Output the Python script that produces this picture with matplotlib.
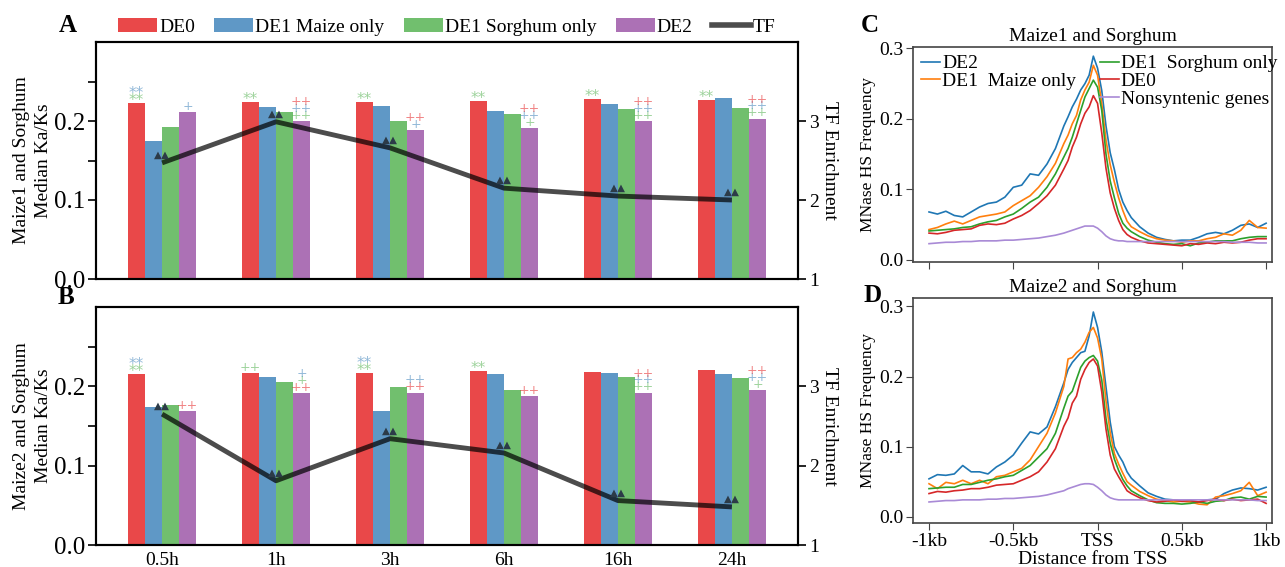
import numpy as np
import matplotlib
matplotlib.use("Agg")
import matplotlib.pyplot as plt
from matplotlib.lines import Line2D
from matplotlib.patches import Patch

plt.rcParams["font.family"] = ["Liberation Serif", "DejaVu Serif"]

# ── bar panels (A, B) ────────────────────────────────────────────────────────
TIMES = ["0.5h", "1h", "3h", "6h", "16h", "24h"]
GROUPS = ["DE0", "DE1 Maize only", "DE1 Sorghum only", "DE2"]

KAKS_A = {
    "DE0":              [0.223, 0.224, 0.224, 0.225, 0.228, 0.227],
    "DE1 Maize only":   [0.175, 0.218, 0.219, 0.213, 0.221, 0.229],
    "DE1 Sorghum only": [0.192, 0.211, 0.200, 0.209, 0.215, 0.216],
    "DE2":              [0.211, 0.200, 0.189, 0.191, 0.200, 0.203],
}
TF_A = [2.47, 2.99, 2.66, 2.15, 2.05, 2.00]

KAKS_B = {
    "DE0":              [0.216, 0.217, 0.217, 0.219, 0.218, 0.220],
    "DE1 Maize only":   [0.174, 0.212, 0.169, 0.215, 0.217, 0.215],
    "DE1 Sorghum only": [0.176, 0.206, 0.199, 0.196, 0.212, 0.211],
    "DE2":              [0.169, 0.191, 0.192, 0.188, 0.192, 0.195],
}
TF_B = [2.65, 1.81, 2.34, 2.16, 1.56, 1.48]

# significance marks: (time index, bar index, [(text, colour key) bottom→top])
SIG_A = [
    (0, 0, [("**", "g"), ("**", "b")]), (0, 3, [("+", "b")]),
    (1, 0, [("**", "g")]), (1, 3, [("++", "g"), ("++", "b"), ("++", "r")]),
    (2, 0, [("**", "g")]), (2, 3, [("+", "b"), ("++", "r")]),
    (3, 0, [("**", "g")]), (3, 3, [("+", "g"), ("++", "b"), ("++", "r")]),
    (4, 0, [("**", "g")]), (4, 3, [("++", "g"), ("++", "b"), ("++", "r")]),
    (5, 0, [("**", "g")]), (5, 3, [("++", "g"), ("++", "b"), ("++", "r")]),
]
SIG_B = [
    (0, 0, [("**", "g"), ("**", "b")]), (0, 3, [("++", "r")]),
    (1, 0, [("++", "g")]), (1, 3, [("++", "r"), ("+", "g"), ("+", "b")]),
    (2, 0, [("**", "g"), ("**", "b")]), (2, 3, [("++", "r"), ("++", "b")]),
    (3, 0, [("**", "g")]), (3, 3, [("++", "r")]),
    (4, 3, [("++", "g"), ("++", "b"), ("++", "r")]),
    (5, 3, [("+", "g"), ("++", "b"), ("++", "r")]),
]

BAR_COLORS = ["#e41a1c", "#377eb8", "#4daf4a", "#984ea3"]
SIG_COLORS = {"r": "#e41a1c", "b": "#377eb8", "g": "#4daf4a"}

# ── MNase HS profiles (C, D) ─────────────────────────────────────────────────
X_BP = [-1000, -950, -900, -850, -800, -750, -700, -650, -600, -550, -500,
        -450, -400, -350, -300, -250, -200, -175, -150, -125, -100, -75, -50,
        -25, 0, 25, 50, 75, 100, 125, 150, 175, 200, 250, 300, 350, 400, 450,
        500, 550, 600, 650, 700, 750, 800, 850, 900, 950, 1000]

C_DE2 = [0.068, 0.065, 0.069, 0.063, 0.061, 0.068, 0.075, 0.080, 0.082, 0.089,
         0.103, 0.106, 0.122, 0.120, 0.136, 0.158, 0.190, 0.203, 0.217, 0.228,
         0.241, 0.250, 0.262, 0.289, 0.272, 0.240, 0.190, 0.152, 0.128, 0.100,
         0.082, 0.070, 0.060, 0.047, 0.038, 0.032, 0.029, 0.027, 0.028, 0.028,
         0.032, 0.037, 0.039, 0.037, 0.042, 0.049, 0.051, 0.046, 0.052]
C_DE1M = [0.043, 0.046, 0.051, 0.055, 0.051, 0.056, 0.061, 0.063, 0.065, 0.068,
          0.077, 0.084, 0.091, 0.103, 0.118, 0.137, 0.165, 0.177, 0.193, 0.205,
          0.227, 0.241, 0.252, 0.276, 0.262, 0.222, 0.170, 0.135, 0.110, 0.088,
          0.070, 0.055, 0.047, 0.040, 0.034, 0.030, 0.028, 0.027, 0.025, 0.027,
          0.027, 0.030, 0.032, 0.037, 0.035, 0.042, 0.056, 0.046, 0.045]
C_DE1S = [0.041, 0.042, 0.043, 0.044, 0.046, 0.047, 0.051, 0.054, 0.056, 0.061,
          0.065, 0.073, 0.082, 0.089, 0.103, 0.122, 0.146, 0.158, 0.174, 0.193,
          0.212, 0.231, 0.243, 0.255, 0.245, 0.212, 0.150, 0.112, 0.088, 0.066,
          0.052, 0.045, 0.040, 0.033, 0.028, 0.025, 0.023, 0.022, 0.023, 0.020,
          0.024, 0.025, 0.027, 0.027, 0.027, 0.030, 0.032, 0.033, 0.033]
C_DE0 = [0.038, 0.037, 0.039, 0.042, 0.043, 0.044, 0.049, 0.051, 0.050, 0.052,
         0.058, 0.063, 0.070, 0.080, 0.091, 0.106, 0.129, 0.141, 0.160, 0.174,
         0.193, 0.208, 0.217, 0.233, 0.222, 0.180, 0.130, 0.095, 0.073, 0.056,
         0.043, 0.036, 0.032, 0.027, 0.024, 0.023, 0.022, 0.021, 0.020, 0.023,
         0.022, 0.024, 0.023, 0.025, 0.024, 0.025, 0.028, 0.030, 0.030]
C_NONSYN = [0.023, 0.024, 0.025, 0.025, 0.026, 0.026, 0.027, 0.027, 0.027, 0.028,
            0.028, 0.029, 0.030, 0.031, 0.033, 0.035, 0.038, 0.040, 0.042, 0.044,
            0.046, 0.048, 0.048, 0.048, 0.045, 0.040, 0.034, 0.030, 0.028, 0.027,
            0.027, 0.026, 0.026, 0.026, 0.026, 0.026, 0.026, 0.026, 0.026, 0.026,
            0.026, 0.026, 0.026, 0.026, 0.025, 0.025, 0.025, 0.024, 0.024]

D_DE2 = [0.054, 0.060, 0.059, 0.061, 0.073, 0.064, 0.064, 0.061, 0.071, 0.078,
         0.088, 0.105, 0.121, 0.118, 0.128, 0.157, 0.191, 0.210, 0.220, 0.227,
         0.234, 0.236, 0.258, 0.292, 0.270, 0.235, 0.185, 0.135, 0.100, 0.088,
         0.078, 0.064, 0.055, 0.044, 0.034, 0.029, 0.025, 0.024, 0.022, 0.022,
         0.021, 0.024, 0.025, 0.033, 0.038, 0.041, 0.040, 0.038, 0.042]
D_DE1M = [0.047, 0.040, 0.049, 0.047, 0.052, 0.047, 0.052, 0.047, 0.057, 0.059,
          0.064, 0.069, 0.081, 0.100, 0.119, 0.148, 0.186, 0.225, 0.227, 0.234,
          0.239, 0.249, 0.263, 0.270, 0.255, 0.225, 0.165, 0.120, 0.090, 0.075,
          0.062, 0.050, 0.045, 0.036, 0.030, 0.025, 0.023, 0.021, 0.022, 0.021,
          0.018, 0.017, 0.028, 0.030, 0.033, 0.037, 0.049, 0.030, 0.035]
D_DE1S = [0.040, 0.041, 0.042, 0.042, 0.046, 0.046, 0.049, 0.052, 0.054, 0.057,
          0.059, 0.066, 0.073, 0.085, 0.097, 0.119, 0.155, 0.172, 0.179, 0.196,
          0.213, 0.222, 0.227, 0.230, 0.222, 0.195, 0.140, 0.105, 0.082, 0.066,
          0.053, 0.044, 0.037, 0.030, 0.024, 0.020, 0.019, 0.019, 0.018, 0.019,
          0.021, 0.019, 0.022, 0.023, 0.027, 0.028, 0.025, 0.029, 0.028]
D_DE0 = [0.033, 0.036, 0.035, 0.037, 0.038, 0.040, 0.040, 0.042, 0.045, 0.046,
         0.047, 0.052, 0.057, 0.064, 0.078, 0.097, 0.129, 0.141, 0.162, 0.172,
         0.196, 0.210, 0.220, 0.225, 0.215, 0.178, 0.125, 0.088, 0.068, 0.057,
         0.047, 0.037, 0.033, 0.027, 0.023, 0.021, 0.022, 0.024, 0.022, 0.023,
         0.021, 0.023, 0.025, 0.023, 0.025, 0.023, 0.024, 0.025, 0.019]
D_NONSYN = [0.021, 0.022, 0.023, 0.023, 0.024, 0.024, 0.024, 0.025, 0.025, 0.026,
            0.026, 0.027, 0.028, 0.029, 0.031, 0.034, 0.037, 0.040, 0.042, 0.044,
            0.046, 0.047, 0.047, 0.046, 0.042, 0.037, 0.031, 0.027, 0.025, 0.024,
            0.024, 0.024, 0.024, 0.024, 0.024, 0.024, 0.024, 0.024, 0.024, 0.024,
            0.024, 0.024, 0.024, 0.024, 0.024, 0.024, 0.024, 0.023, 0.023]

LINE_COLORS = {"DE2": "#1f77b4", "DE1  Maize only": "#ff7f0e",
               "DE1  Sorghum only": "#2ca02c", "DE0": "#d62728",
               "Nonsyntenic genes": "#a98ad6"}

W, H = 1285, 567
fig = plt.figure(figsize=(W / 100, H / 100), dpi=100)


def fax(l, t, r, b):
    return fig.add_axes([l / W, 1 - b / H, (r - l) / W, (b - t) / H])


def bar_panel(ax, kaks, tf, sig, ylabel):
    x = np.arange(len(TIMES))
    w = 0.15
    for i, g in enumerate(GROUPS):
        ax.bar(x + (i - 1.5) * w, kaks[g], w, color=BAR_COLORS[i], alpha=0.8,
               linewidth=0, label=g)
    for ti, bi, marks in sig:
        h = kaks[GROUPS[bi]][ti]
        xc = x[ti] + (bi - 1.5) * w
        for k, (txt, ck) in enumerate(marks):
            star = "*" in txt
            ax.text(xc, h + 0.0072 + k * 0.0088 - (0.004 if star else 0), txt,
                    color=SIG_COLORS[ck], alpha=0.55,
                    fontsize=11 if star else 9, ha="center", va="center",
                    family=["DejaVu Sans"])
    ax.set_xlim(-0.58, len(TIMES) - 0.42)
    ax.set_ylim(0, 0.3)
    ax.set_yticks([0, 0.1, 0.15, 0.2, 0.25])
    ax.set_yticklabels(["0.0", "0.1", "", "0.2", ""], fontsize=18)
    ax.tick_params(axis="y", length=6, width=1.2, pad=2)
    ax.set_ylabel(ylabel, fontsize=14, linespacing=1.4)
    ax.yaxis.set_label_coords(-0.062, 0.5)
    for s in ax.spines.values():
        s.set_linewidth(1.5)

    ax2 = ax.twinx()
    ax2.plot(x, tf, color="black", alpha=0.7, lw=3.5, solid_capstyle="butt")
    for xi, v in zip(x, tf):
        ax2.text(xi, v + 0.04, "▲▲", color="#2c3b48", fontsize=7.5,
                 ha="center", va="bottom", family=["DejaVu Sans"])
    ax2.set_ylim(1, 4)
    ax2.set_yticks([1, 2, 3])
    ax2.tick_params(axis="y", length=6, width=1.2, labelsize=14, pad=2)
    ax2.set_ylabel("TF Enrichment", fontsize=14, rotation=270, labelpad=14)
    for s in ax2.spines.values():
        s.set_linewidth(1.5)
    return ax2


axA = fax(96, 42, 798, 279)
bar_panel(axA, KAKS_A, TF_A, SIG_A, "Maize1 and Sorghum\nMedian Ka/Ks")
axA.set_xticks([])

axB = fax(96, 307, 798, 545)
bar_panel(axB, KAKS_B, TF_B, SIG_B, "Maize2 and Sorghum\nMedian Ka/Ks")
axB.set_xticks(np.arange(len(TIMES)))
axB.set_xticklabels(TIMES, fontsize=14)
axB.tick_params(axis="x", length=0, pad=5)

handles = [Patch(facecolor=c, alpha=0.8, linewidth=0) for c in BAR_COLORS]
handles.append(Line2D([], [], color="black", alpha=0.7, lw=4))
axA.legend(handles, GROUPS + ["TF"], loc="center", ncol=5,
           bbox_to_anchor=(0.5, 1 + 15 / 237), frameon=False, fontsize=14,
           handlelength=2.0, handletextpad=0.1, columnspacing=1.0,
           borderaxespad=0)


def profile_panel(ax, series, title, ylim):
    for name, vals in series:
        ax.plot(X_BP, vals, color=LINE_COLORS[name], lw=1.2, label=name)
    ax.set_xlim(-1095, 1035)
    ax.set_ylim(*ylim)
    ax.set_yticks([0, 0.1, 0.2, 0.3])
    ax.set_yticklabels(["0.0", "0.1", "0.2", "0.3"])
    ax.set_xticks([-1000, -500, 0, 500, 1000])
    ax.tick_params(labelsize=14, length=5, color="#444444", pad=2)
    ax.set_ylabel("MNase HS Frequency", fontsize=12.5, labelpad=2)
    ax.set_title(title, fontsize=14, pad=4)
    for s in ax.spines.values():
        s.set_color("#444444")
        s.set_linewidth(1.2)


axC = fax(913, 47, 1272, 262)
profile_panel(axC, [("DE2", C_DE2), ("DE1  Maize only", C_DE1M),
                    ("DE1  Sorghum only", C_DE1S), ("DE0", C_DE0),
                    ("Nonsyntenic genes", C_NONSYN)],
              "Maize1 and Sorghum", (-0.003, 0.302))
axC.set_xticklabels([])
hC, lC = axC.get_legend_handles_labels()
blank = Line2D([], [], color="none")
axC.legend(hC[:2] + [blank] + hC[2:], lC[:2] + [""] + lC[2:], ncol=2,
           loc="upper left", bbox_to_anchor=(0.0, 1.0), frameon=False,
           fontsize=14, handlelength=1.0, handletextpad=0.1,
           labelspacing=0.0, columnspacing=1.2, borderaxespad=0.3,
           borderpad=0.1)

axD = fax(913, 298, 1272, 523)
profile_panel(axD, [("DE2", D_DE2), ("DE1  Maize only", D_DE1M),
                    ("DE1  Sorghum only", D_DE1S), ("DE0", D_DE0),
                    ("Nonsyntenic genes", D_NONSYN)],
              "Maize2 and Sorghum", (-0.009, 0.312))
axD.set_xticklabels(["-1kb", "-0.5kb", "TSS", "0.5kb", "1kb"])
axD.set_xlabel("Distance from TSS", fontsize=14, labelpad=1)

# panel letters
for letter, (px, py) in {"A": (68, 25), "B": (66, 298),
                         "C": (870, 25), "D": (873, 295)}.items():
    fig.text(px / W, 1 - py / H, letter, fontsize=18, fontweight="bold",
             ha="center", va="center")

fig.savefig("out.png", dpi=100)
